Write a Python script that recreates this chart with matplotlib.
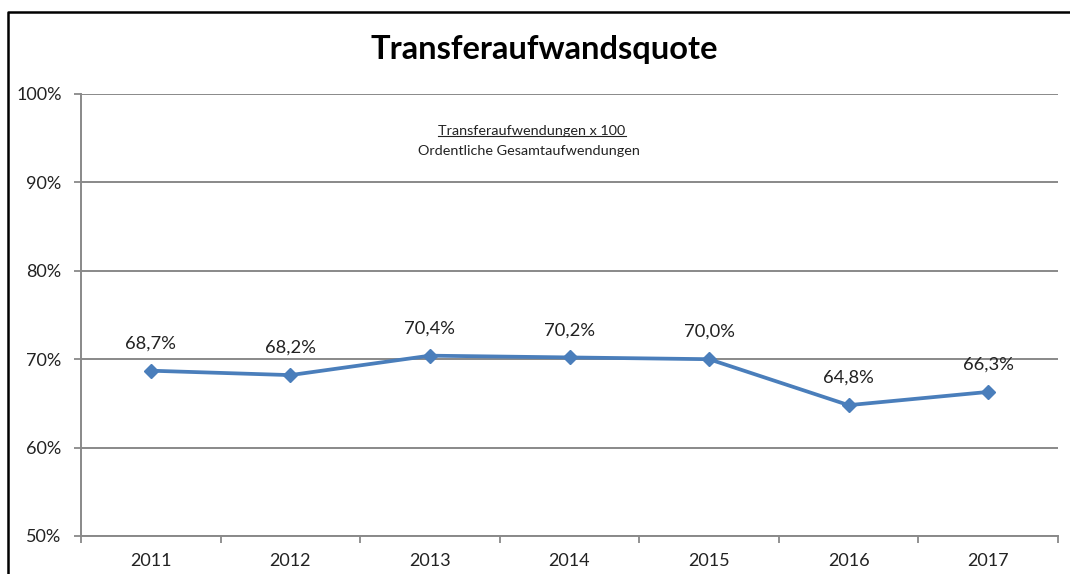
import matplotlib
matplotlib.use("Agg")
import matplotlib.pyplot as plt
from matplotlib.lines import Line2D

years = ["2011", "2012", "2013", "2014", "2015", "2016", "2017"]
values = [68.7, 68.2, 70.4, 70.2, 70.0, 64.8, 66.3]
labels = ["68,7%", "68,2%", "70,4%", "70,2%", "70,0%", "64,8%", "66,3%"]
yticks = [50, 60, 70, 80, 90, 100]
ytick_labels = ["50%", "60%", "70%", "80%", "90%", "100%"]
title = "Transferaufwandsquote"
formula_top = "Transferaufwendungen x 100"
formula_bottom = "Ordentliche Gesamtaufwendungen"

plt.rcParams['font.family'] = ['Lato', 'DejaVu Sans']

W, H = 1070, 574
fig = plt.figure(figsize=(W / 100, H / 100), dpi=100)
fig.patch.set_facecolor("white")

def fx(px):
    return px / W

def fy(py):
    return 1 - py / H

txt_c = "#222222"
ax = fig.add_axes([fx(81), fy(536), fx(1058) - fx(81), fy(94) - fy(536)])
grid_c = "#898989"
xs = list(range(len(years)))
ax.plot(xs, values, color="#4A7EBB", lw=2.7, marker="D", markersize=7.5,
        markeredgecolor="#4A7EBB", markerfacecolor="#4A7EBB", zorder=5, clip_on=False)
for x, v, t in zip(xs, values, labels):
    ax.annotate(t, (x, v), xytext=(0, 19.5), textcoords="offset points",
                ha="center", va="center", fontsize=13.2, color=txt_c)

ax.set_xlim(-0.5, len(years) - 0.5)
ax.set_ylim(50, 100)
ax.set_yticks(yticks)
ax.set_yticklabels(ytick_labels, fontsize=13, color=txt_c)
ax.set_xticks(xs)
ax.set_xticklabels(years, fontsize=13, color=txt_c)
ax.set_xticks([i + 0.5 for i in range(-1, len(years))], minor=True)
ax.tick_params(axis="x", which="major", length=0, pad=12)
ax.tick_params(axis="x", which="minor", length=5, width=1.3, color=grid_c)
ax.tick_params(axis="y", length=5, width=1.3, color=grid_c, pad=9)
ax.yaxis.grid(True, color=grid_c, lw=1.4)
ax.set_axisbelow(True)
for s in ["top", "right"]:
    ax.spines[s].set_visible(False)
for s in ["left", "bottom"]:
    ax.spines[s].set_color(grid_c)
    ax.spines[s].set_linewidth(1.4)

fig.text(fx(544), fy(50), title, ha="center", va="center", fontsize=23.5,
         fontweight="bold", color="black")
t1 = fig.text(fx(532), fy(131), formula_top, ha="center", va="center",
              fontsize=10.4, color=txt_c)
fig.text(fx(529), fy(151), formula_bottom, ha="center", va="center",
         fontsize=10.4, color=txt_c)

fig.canvas.draw()
bb = t1.get_window_extent()
fig.add_artist(Line2D([bb.x0 / W, bb.x1 / W], [(bb.y0 + 1) / H, (bb.y0 + 1) / H],
                      color=txt_c, lw=0.8, transform=fig.transFigure))

# outer frame (top and left visible)
fig.add_artist(Line2D([fx(8), fx(8), 1.0], [0.0, fy(12), fy(12)],
                      color="black", lw=1.8, transform=fig.transFigure))

fig.savefig("out.png", dpi=100, facecolor="white")
